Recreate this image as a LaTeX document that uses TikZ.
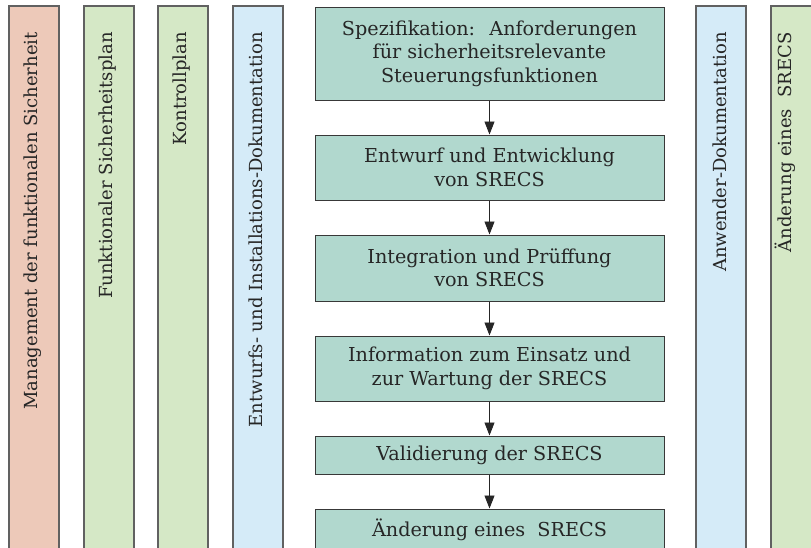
\documentclass[tikz,border=0pt]{standalone}
\usepackage{fontspec}
\setmainfont{DejaVu Serif}
\usetikzlibrary{arrows.meta}
\definecolor{salmon}{HTML}{EDC9B9}
\definecolor{lgreen}{HTML}{D5E8C6}
\definecolor{lblue}{HTML}{D5EBF8}
\definecolor{teal}{HTML}{B1D8CE}
\definecolor{ink}{HTML}{262626}
\tikzset{
  colbar/.style={draw=black!62, line width=1.1pt},
  coltext/.style={rotate=90, anchor=east, inner sep=0pt, text=ink, font=\fontsize{18}{22}\selectfont},
  stepbox/.style={draw=black!78, line width=1pt, fill=teal, minimum width=349pt, text=ink, align=center, inner sep=0pt, font=\fontsize{19.2}{23.5}\selectfont},
  flow/.style={draw=ink, line width=0.9pt, -{Triangle[width=10pt,length=13pt]}}
}
\begin{document}
\begin{tikzpicture}[x=1pt,y=-1pt]
\useasboundingbox (0,0) rectangle (811,547);
\clip (0,0) rectangle (811,547);
% columns
\draw[colbar, fill=salmon] (9,6) rectangle (59,570);
\draw[colbar, fill=lgreen] (84,6) rectangle (134,570);
\draw[colbar, fill=lgreen] (158,6) rectangle (208,570);
\draw[colbar, fill=lblue] (233,6) rectangle (283,570);
\draw[colbar, fill=lblue] (696,6) rectangle (746,570);
\draw[colbar, fill=lgreen] (771,6) rectangle (830,570);
\node[coltext] (c1) at (33,32) {Management der funktionalen Sicherheit};
\node[coltext] (c2) at (108,32) {Funktionaler Sicherheitsplan};
\node[coltext] (c3) at (182,32) {Kontrollplan};
\node[coltext] (c4) at (256,32) {Entwurfs- und Installations-Dokumentation};
\node[coltext] (c5) at (720,32) {Anwender-Dokumentation};
\node[coltext] (c6) at (785,32) {Änderung eines~ SRECS};
% boxes
\node[stepbox, minimum height=93pt] (b1) at (489.5,53.5) {Spezifikation:~ Anforderungen\\für sicherheitsrelevante\\Steuerungsfunktionen};
\node[stepbox, minimum height=65pt] (b2) at (489.5,167.5) {Entwurf und Entwicklung\\von SRECS};
\node[stepbox, minimum height=66pt] (b3) at (489.5,268) {Integration und Prüffung\\von SRECS};
\node[stepbox, minimum height=65pt] (b4) at (489.5,368.5) {Information zum Einsatz und\\zur Wartung der SRECS};
\node[stepbox, minimum height=38pt] (b5) at (489.5,455) {Validierung der SRECS};
\node[stepbox, minimum height=42pt] (b6) at (489.5,530) {Änderung eines~ SRECS};
\draw[flow] (b1) -- (b2);
\draw[flow] (b2) -- (b3);
\draw[flow] (b3) -- (b4);
\draw[flow] (b4) -- (b5);
\draw[flow] (b5) -- (b6);
\end{tikzpicture}
\end{document}
